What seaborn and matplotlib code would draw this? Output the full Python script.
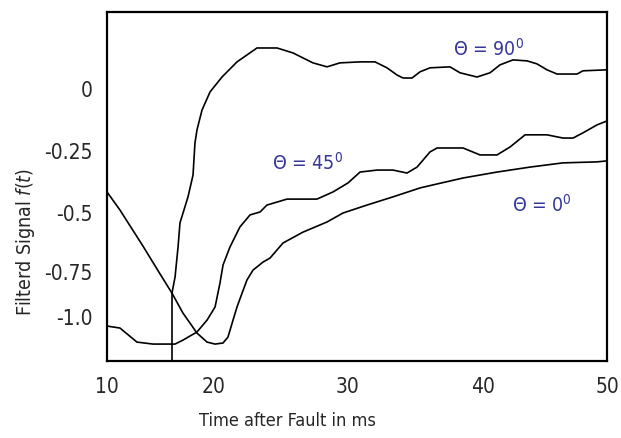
import numpy as np
import matplotlib
matplotlib.use("Agg")
import matplotlib.pyplot as plt
import seaborn as sns

# ===== DATA =====
# theta = 0 deg (includes the common pre-fault descent from the left)
t_0 = [10.0, 11.21, 13.36, 14.95, 16.07, 17.10, 18.41, 19.35, 20.08, 20.68, 21.05,
       21.43, 21.73, 22.11, 22.48, 22.93, 23.68, 24.21, 25.19, 26.69, 28.50, 29.70,
       31.47, 33.38, 35.37, 36.62, 38.53, 41.13, 43.79, 46.45, 49.19, 50.0]
f_0 = [-0.415, -0.488, -0.640, -0.760, -0.867, -0.978, -1.089, -1.139, -1.150, -1.144, -1.111,
       -1.017, -0.944, -0.867, -0.794, -0.742, -0.708, -0.691, -0.627, -0.581, -0.538, -0.500,
       -0.468, -0.435, -0.399, -0.383, -0.359, -0.335, -0.315, -0.298, -0.294, -0.290]

# theta = 45 deg
t_45 = [10.0, 11.21, 12.80, 14.30, 16.36, 17.10, 18.41, 19.35, 20.08, 20.45, 20.68,
        21.20, 21.95, 22.71, 23.46, 23.98, 25.49, 27.74, 28.95, 30.07, 30.96, 32.21,
        33.38, 34.41, 35.15, 36.10, 36.62, 38.53, 39.78, 41.13, 42.18, 43.39, 45.16,
        46.45, 47.26, 48.06, 49.19, 50.0]
f_45 = [-1.050, -1.061, -1.139, -1.150, -1.150, -1.128, -1.083, -1.017, -0.944, -0.811, -0.720,
        -0.644, -0.559, -0.508, -0.496, -0.468, -0.444, -0.444, -0.415, -0.379, -0.335, -0.327,
        -0.327, -0.339, -0.315, -0.254, -0.238, -0.238, -0.266, -0.266, -0.234, -0.185, -0.185,
        -0.198, -0.198, -0.177, -0.145, -0.129]

# theta = 90 deg (starts at the detection instant)
t_90 = [16.07, 16.36, 16.64, 16.82, 17.57, 18.04, 18.22, 18.41, 18.88, 19.63, 20.60,
        21.73, 22.48, 23.23, 24.74, 25.94, 26.69, 27.44, 28.50, 29.47, 30.96, 32.06,
        32.94, 33.68, 34.12, 34.78, 35.37, 36.10, 37.57, 38.31, 39.56, 40.56, 41.37,
        42.42, 43.55, 44.35, 45.16, 45.97, 47.58, 48.06, 50.0]
f_90 = [-0.867, -0.778, -0.644, -0.542, -0.435, -0.347, -0.218, -0.165, -0.085, -0.012, 0.048,
        0.109, 0.137, 0.165, 0.165, 0.145, 0.125, 0.105, 0.089, 0.105, 0.109, 0.109,
        0.085, 0.056, 0.044, 0.044, 0.069, 0.085, 0.089, 0.065, 0.048, 0.065, 0.097,
        0.117, 0.113, 0.101, 0.077, 0.060, 0.060, 0.073, 0.077]

t_detect = 16.07
f_detect = -0.867

x_ticks = [10, 20, 30, 40, 50]
y_ticks = [-1.0, -0.75, -0.5, -0.25, 0.0]
y_ticklabels = ["-1.0", "-0.75", "-0.5", "-0.25", "0"]

# the original axes are unevenly spaced: pixel spacing of its ticks
x_tick_px = [107, 214, 347, 483, 607]
y_tick_px = [-317, -272, -213, -151, -89]


def piecewise(xp, fp):
    xp = np.asarray(xp, float)
    fp = np.asarray(fp, float)

    def f(x):
        x = np.asarray(x, float)
        lo = fp[0] + (x - xp[0]) * (fp[1] - fp[0]) / (xp[1] - xp[0])
        hi = fp[-1] + (x - xp[-1]) * (fp[-1] - fp[-2]) / (xp[-1] - xp[-2])
        return np.where(x < xp[0], lo, np.where(x > xp[-1], hi, np.interp(x, xp, fp)))
    return f


sns.set_style("white")
plt.rcParams["font.family"] = ["DejaVu Sans"]
plt.rcParams["font.stretch"] = "condensed"

fig = plt.figure(figsize=(6.21, 4.38), dpi=100)
ax = fig.add_axes([0.1723, 0.1758, 0.8052, 0.7968])

ax.set_xscale("function", functions=(piecewise(x_ticks, x_tick_px), piecewise(x_tick_px, x_ticks)))
ax.set_yscale("function", functions=(piecewise(y_ticks, y_tick_px), piecewise(y_tick_px, y_ticks)))

for t, f in [(t_0, f_0), (t_45, f_45), (t_90, f_90)]:
    sns.lineplot(x=t, y=f, ax=ax, color="black", lw=1.2, estimator=None, sort=False)

ax.plot([t_detect, t_detect], [-1.3, f_detect], color="black", lw=1.2)

ax.set_xlim(10, 50)
ax.set_ylim(-1.244, 0.31)
ax.set_xticks(x_ticks)
ax.set_xticklabels([str(v) for v in x_ticks])
ax.set_yticks(y_ticks)
ax.set_yticklabels(y_ticklabels)
ax.minorticks_off()

for s in ax.spines.values():
    s.set_color("black")
    s.set_linewidth(1.6)
ax.tick_params(axis="both", direction="out", length=2.5, width=1, color="black",
               labelsize=15, labelcolor="#262626")
ax.tick_params(axis="x", pad=9)
ax.tick_params(axis="y", pad=8)

ax.set_xlabel("Time after Fault in ms", fontsize=13, color="#262626")
ax.xaxis.set_label_coords(0.36, -0.145)
ax.set_ylabel("Filterd Signal $\\mathit{f(t)}$", fontsize=14, color="#262626")
ax.yaxis.set_label_coords(-0.14, 0.34)

lab_col = "#35359a"
ax.text(37.79, 0.161, "\u0398 = 90$^{0}$", color=lab_col, fontsize=14, va="center", ha="left")
ax.text(24.36, -0.298, "\u0398 = 45$^{0}$", color=lab_col, fontsize=14, va="center", ha="left")
ax.text(42.34, -0.468, "\u0398 = 0$^{0}$", color=lab_col, fontsize=14, va="center", ha="left")

fig.savefig("out.png", dpi=100)
